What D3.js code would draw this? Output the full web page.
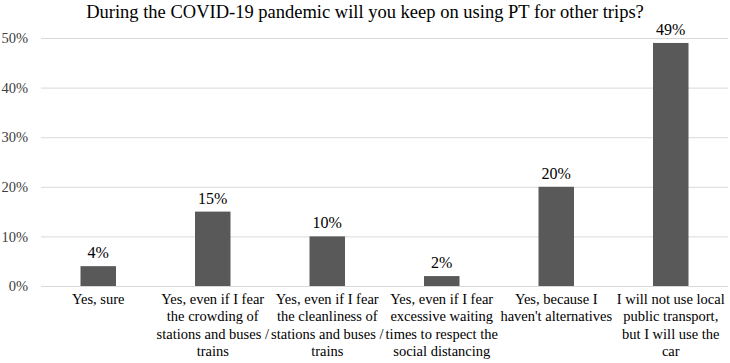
<!DOCTYPE html>
<html>
<head>
<meta charset="utf-8">
<script src="https://cdn.jsdelivr.net/npm/d3@7"></script>
<style>
  body { margin: 0; background: white; }
</style>
</head>
<body>
<svg id="chart"></svg>
<script>
"use strict";

const FONT = "'Liberation Serif', 'Times New Roman', serif";

const title = "During the COVID-19 pandemic will you keep on using PT for other trips?";

// category labels, already split into the lines shown under each bar
const categories = [
    ["Yes, sure"],
    ["Yes, even if I fear", "the crowding of", "stations and buses /", "trains"],
    ["Yes, even if I fear", "the cleanliness of", "stations and buses /", "trains"],
    ["Yes, even if I fear", "excessive waiting", "times to respect the", "social distancing"],
    ["Yes, because I", "haven't alternatives"],
    ["I will not use local", "public transport,", "but I will use the", "car"]
];
const values = [4, 15, 10, 2, 20, 49];
const y_ticks = [0, 10, 20, 30, 40, 50];

const width = 730, height = 363;
const margins = {top: 38, right: 2, bottom: 77, left: 41};
const plot_width = width - margins.left - margins.right;
const plot_height = height - margins.top - margins.bottom;

const svg = d3.select("#chart")
    .attr("width", width)
    .attr("height", height);

svg.append("rect")
    .attr("width", width)
    .attr("height", height)
    .attr("fill", "white");

const x_scale = d3.scaleBand()
    .domain(d3.range(values.length))
    .range([0, plot_width])
    .paddingInner(0.69)
    .paddingOuter(0.345);

const y_scale = d3.scaleLinear()
    .domain([0, 50])
    .range([plot_height, 0]);

const plot = svg.append("g")
    .attr("transform", "translate(" + margins.left + "," + margins.top + ")");

// horizontal grid lines
const y_axis = d3.axisLeft(y_scale)
    .tickValues(y_ticks)
    .tickSize(-plot_width)
    .tickPadding(13)
    .tickFormat(function(d) { return d + "%"; });

const y_g = plot.append("g").call(y_axis);
y_g.attr("font-family", null).attr("font-size", null);
y_g.select(".domain").remove();
y_g.selectAll(".tick line")
    .attr("stroke", "#d9d9d9")
    .attr("stroke-width", 1);
y_g.selectAll(".tick text")
    .attr("fill", "#404040")
    .style("font-family", FONT)
    .style("font-size", "14.5px");

// bars
plot.selectAll(".bar")
    .data(values)
    .enter()
    .append("rect")
    .attr("class", "bar")
    .attr("x", function(d, i) { return x_scale(i); })
    .attr("y", function(d) { return y_scale(d); })
    .attr("width", x_scale.bandwidth())
    .attr("height", function(d) { return y_scale(0) - y_scale(d); })
    .attr("fill", "#595959");

// value labels
plot.selectAll(".value_label")
    .data(values)
    .enter()
    .append("text")
    .attr("class", "value_label")
    .attr("x", function(d, i) { return x_scale(i) + x_scale.bandwidth() / 2; })
    .attr("y", function(d) { return y_scale(d) - 8; })
    .attr("text-anchor", "middle")
    .attr("fill", "#000")
    .style("font-family", FONT)
    .style("font-size", "16px")
    .text(function(d) { return d + "%"; });

// category labels
const cat_g = plot.selectAll(".cat_label")
    .data(categories)
    .enter()
    .append("text")
    .attr("class", "cat_label")
    .attr("text-anchor", "middle")
    .attr("fill", "#000")
    .style("font-family", FONT)
    .style("font-size", "14.5px")
    .attr("transform", function(d, i) {
        return "translate(" + (x_scale(i) + x_scale.bandwidth() / 2) + "," + (plot_height + 18) + ")";
    });

cat_g.selectAll("tspan")
    .data(function(d) { return d; })
    .enter()
    .append("tspan")
    .attr("x", 0)
    .attr("y", function(d, i) { return i * 17.3; })
    .text(function(d) { return d; });

// title
svg.append("text")
    .attr("x", width / 2)
    .attr("y", 18)
    .attr("text-anchor", "middle")
    .attr("fill", "#000")
    .style("font-family", FONT)
    .style("font-size", "18.5px")
    .text(title);
</script>
</body>
</html>
